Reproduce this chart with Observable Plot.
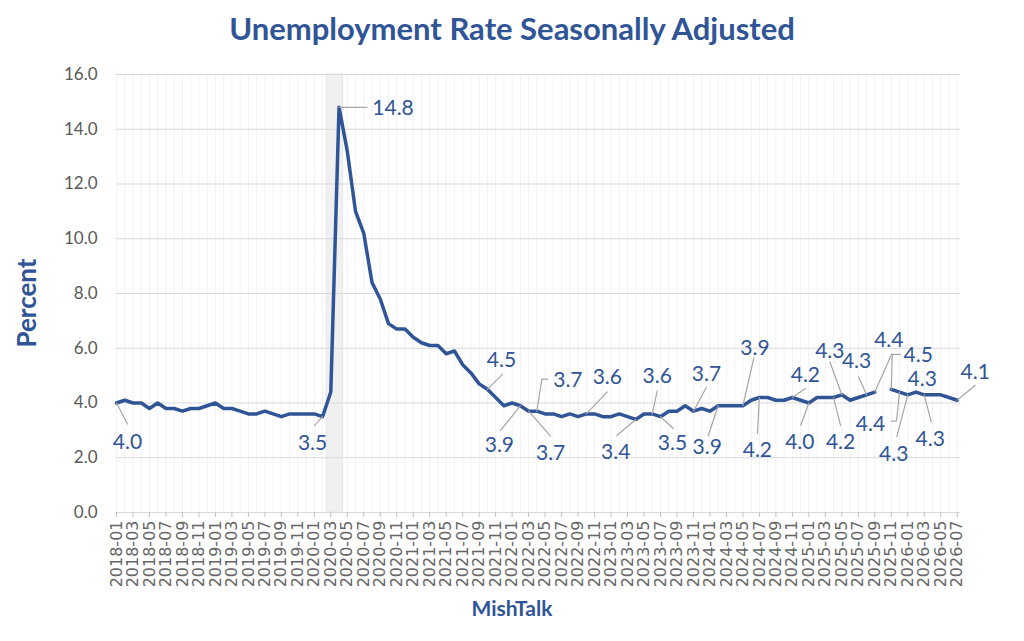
<!DOCTYPE html>
<html>
<head>
<meta charset="utf-8">
<script src="https://cdn.jsdelivr.net/npm/d3@7"></script>
<script src="https://cdn.jsdelivr.net/npm/@observablehq/plot@0.6"></script>
<style>
  body { margin: 0; background: #fff; width: 1024px; height: 641px; overflow: hidden; font-family: Lato, "Open Sans", sans-serif; }
  #title { height: 56px; line-height: 56px; text-align: center; font-weight: bold; font-size: 31px; color: #2F5597; }
  #caption { height: 24px; line-height: 24px; text-align: center; font-weight: bold; font-size: 21px; color: #2F5597; }
  #chart svg g[aria-label="x-axis tick label"] text { font-family: "DejaVu Sans", sans-serif; }
</style>
</head>
<body>
<div id="title">Unemployment Rate Seasonally Adjusted</div>
<div id="chart"></div>
<div id="caption">MishTalk</div>
<script>
// ---- data ----
const startMonth = "2018-01";
const endMonth = "2026-07";
const rate2018 = [4.0, 4.1, 4.0, 4.0, 3.8, 4.0, 3.8, 3.8, 3.7, 3.8, 3.8, 3.9];
const rate2019 = [4.0, 3.8, 3.8, 3.7, 3.6, 3.6, 3.7, 3.6, 3.5, 3.6, 3.6, 3.6];
const rate2020 = [3.6, 3.5, 4.4, 14.8, 13.2, 11.0, 10.2, 8.4, 7.8, 6.9, 6.7, 6.7];
const rate2021 = [6.4, 6.2, 6.1, 6.1, 5.8, 5.9, 5.4, 5.1, 4.7, 4.5, 4.2, 3.9];
const rate2022 = [4.0, 3.9, 3.7, 3.7, 3.6, 3.6, 3.5, 3.6, 3.5, 3.6, 3.6, 3.5];
const rate2023 = [3.5, 3.6, 3.5, 3.4, 3.6, 3.6, 3.5, 3.7, 3.7, 3.9, 3.7, 3.8];
const rate2024 = [3.7, 3.9, 3.9, 3.9, 3.9, 4.1, 4.2, 4.2, 4.1, 4.1, 4.2, 4.1];
const rate2025 = [4.0, 4.2, 4.2, 4.2, 4.3, 4.1, 4.2, 4.3, 4.4, null, 4.5, 4.4];
const rate2026 = [4.3, 4.4, 4.3, 4.3, 4.3, 4.2, 4.1];
const recessionMonths = ["2020-03", "2020-04"];
const yTicks = [0, 2, 4, 6, 8, 10, 12, 14, 16];
// months that carry a data label
const labelledMonths = ["2018-01","2020-02","2020-04","2021-10","2022-02","2022-03","2022-04","2022-10",
  "2023-04","2023-06","2023-07","2023-11","2024-02","2024-05","2024-07","2024-11","2025-01","2025-04",
  "2025-05","2025-08","2025-09","2025-11","2025-12","2026-01","2026-03","2026-03","2026-07"];
// label placement (pixel offsets from the point): text centre, leader path
const labelLayout = [
  {t:[11,39],  L:[[11,21]]},
  {t:[-10,27], L:[[-8,9]]},
  {t:[54,1],   L:[[28,0]]},
  {t:[14,-29], L:[[15,-15]]},
  {t:[-21,40], L:[[-20,25]]},
  {t:[22,42],  L:[[22,25]]},
  {t:[31,-31], L:[[5,-32],[11,-32]]},
  {t:[21,-37], L:[[21,-22]]},
  {t:[-20,33], L:[[-19,16]]},
  {t:[5,-38],  L:[[5,-23]]},
  {t:[12,27],  L:[[13,12]]},
  {t:[13,-37], L:[[13,-24]]},
  {t:[-11,42], L:[[-10,30]]},
  {t:[12,-57], L:[[11,-48]]},
  {t:[-2,53],  L:[[-2,36]]},
  {t:[13,-22], L:[[13,-9]]},
  {t:[-9,39],  L:[[-8,22]]},
  {t:[7,45],   L:[[7,28]]},
  {t:[-12,-44],L:[[-12,-33]]},
  {t:[-10,-34],L:[[-8,-18]]},
  {t:[14,-52], L:[[17,-38]]},
  {t:[27,-34], L:[[1,-35],[9,-35]]},
  {t:[-29,32], L:[[-3,29],[-8,29]]},
  {t:[-14,59], L:[[-11,42]]},
  {t:[-2,-16], L:[]},
  {t:[6,44],   L:[[7,27]]},
  {t:[18,-28], L:[[18,-15]]}
];

// ---- build ----
const fmtMonth = d3.utcFormat("%Y-%m");
const parseMonth = d3.utcParse("%Y-%m");
const months = d3.utcMonth.range(parseMonth(startMonth), d3.utcMonth.offset(parseMonth(endMonth), 1)).map(fmtMonth);
const values = [].concat(rate2018, rate2019, rate2020, rate2021, rate2022, rate2023, rate2024, rate2025, rate2026);
const series = months.map((m, i) => ({i, month: m, v: values[i]}));
const idx = m => months.indexOf(m);

const W = 1024, H = 540, ML = 116, MR = 64, MT = 18, MB = 84;
const xMax = 102.4;
const kx = (W - ML - MR) / xMax;
const ky = (H - MT - MB) / 16;

const labelRows = [];
const leaderRows = [];
labelledMonths.forEach((m, j) => {
  const i = idx(m), v = values[i], lay = labelLayout[j];
  labelRows.push({x: i + lay.t[0] / kx, y: v - lay.t[1] / ky, text: d3.format(".1f")(v)});
  if (lay.L.length) {
    leaderRows.push({j, x: i, y: v});
    lay.L.forEach(p => leaderRows.push({j, x: i + p[0] / kx, y: v - p[1] / ky}));
  }
});

const recession = [{x1: idx(recessionMonths[0]) - 0.5, x2: idx(recessionMonths[recessionMonths.length - 1]) + 0.5}];
const evenIdx = months.map((m, i) => i).filter(i => i % 2 === 0);

const chart = Plot.plot({
  width: W, height: H,
  marginLeft: ML, marginRight: MR, marginTop: MT, marginBottom: MB,
  style: {fontFamily: "Lato, sans-serif", background: "white", overflow: "visible"},
  x: {type: "linear", domain: [0, xMax], axis: null},
  y: {domain: [0, 16], axis: null},
  marks: [
    Plot.ruleX(months.map((m, i) => i), {stroke: "#F2F2F2", strokeWidth: 1}),
    Plot.rect(recession, {x1: "x1", x2: "x2", y1: 0, y2: 16, fill: "#F0F0F0", stroke: "#E6E6E6", strokeWidth: 1}),
    Plot.gridY(yTicks, {stroke: "#D9D9D9", strokeOpacity: 1, strokeWidth: 1}),
    Plot.axisY({ticks: yTicks, tickFormat: d3.format(".1f"), tickSize: 0, tickPadding: 19, fontSize: 17, fill: "#595959", label: null}),
    Plot.ruleY([0], {stroke: "#D9D9D9", strokeWidth: 1}),
    Plot.axisX({ticks: evenIdx, tickFormat: i => months[i], tickRotate: -90, tickSize: 5, tickPadding: 3,
      stroke: "#BFBFBF", fill: "#666666", fontSize: 16, label: null}),
    Plot.line(series, {x: "i", y: "v", stroke: "#2F5597", strokeWidth: 3.5, strokeLinejoin: "round"}),
    Plot.line(leaderRows, {x: "x", y: "y", z: "j", stroke: "#A6A6A6", strokeWidth: 1.2}),
    Plot.text(labelRows, {x: "x", y: "y", text: "text", fill: "#2F5597", fontSize: 21, textAnchor: "middle", lineAnchor: "middle"}),
    Plot.text(["Percent"], {text: d => d, frameAnchor: "left", dx: -89, dy: 54, rotate: -90, fill: "#2F5597", fontSize: 26, fontWeight: "bold"})
  ]
});
document.getElementById("chart").appendChild(chart);
</script>
</body>
</html>
